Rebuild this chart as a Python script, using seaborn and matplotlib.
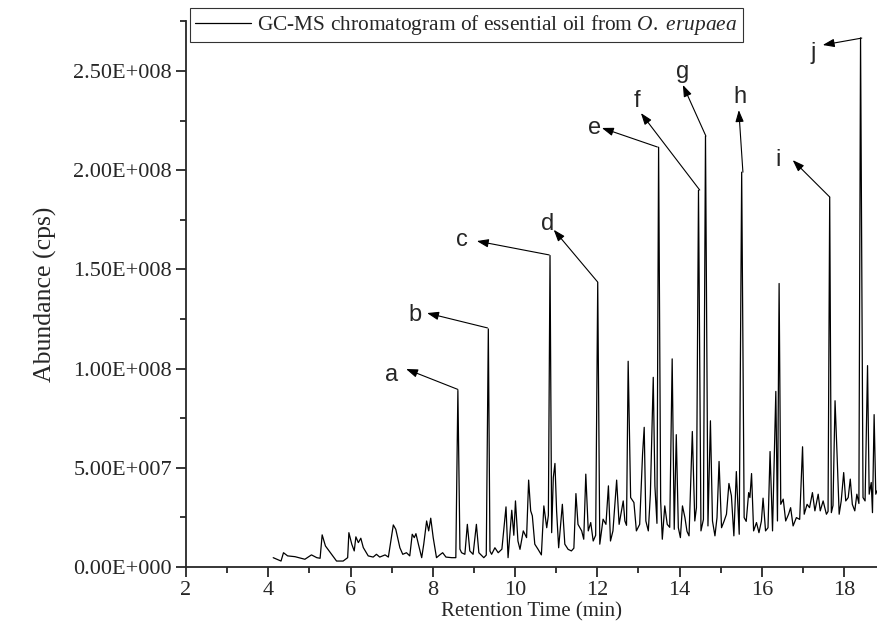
import numpy as np
import pandas as pd
import matplotlib
matplotlib.use('Agg')
import matplotlib.pyplot as plt
import seaborn as sns
from matplotlib.ticker import MultipleLocator, FuncFormatter

# %% data (time in min, abundance in 1e7 cps)

retention_time = [
    4.12, 4.31, 4.37, 4.47, 4.65, 4.89, 5.05, 5.18, 5.26, 5.31, 5.39, 5.54, 5.66, 5.82,
    5.93, 5.96, 6.03, 6.09, 6.13, 6.19, 6.25, 6.31, 6.43, 6.55, 6.63, 6.71, 6.84, 6.92,
    7.04, 7.10, 7.20, 7.27, 7.36, 7.44, 7.50, 7.55, 7.59, 7.65, 7.73, 7.78, 7.85, 7.90,
    7.95, 8.01, 8.09, 8.17, 8.24, 8.32, 8.46, 8.56, 8.61, 8.66, 8.70, 8.78, 8.84, 8.90,
    8.98, 9.06, 9.12, 9.24, 9.30, 9.35, 9.39, 9.43, 9.51, 9.59, 9.68, 9.78, 9.83, 9.92,
    9.97, 10.01, 10.07, 10.12, 10.20, 10.28, 10.33, 10.38, 10.42, 10.48, 10.56, 10.64,
    10.70, 10.77, 10.81, 10.85, 10.89, 10.93, 10.97, 11.01, 11.06, 11.15, 11.21, 11.29,
    11.37, 11.43, 11.48, 11.53, 11.62, 11.67, 11.72, 11.78, 11.84, 11.90, 11.96, 12.01,
    12.06, 12.14, 12.21, 12.27, 12.32, 12.38, 12.47, 12.53, 12.63, 12.67, 12.71, 12.75,
    12.81, 12.89, 12.95, 13.03, 13.10, 13.14, 13.18, 13.24, 13.29, 13.36, 13.40, 13.45,
    13.49, 13.54, 13.58, 13.64, 13.70, 13.76, 13.82, 13.87, 13.92, 13.97, 14.02, 14.07,
    14.13, 14.18, 14.23, 14.31, 14.37, 14.41, 14.46, 14.52, 14.58, 14.63, 14.69, 14.75,
    14.80, 14.86, 14.91, 14.96, 15.02, 15.08, 15.14, 15.20, 15.26, 15.32, 15.38, 15.45,
    15.51, 15.57, 15.62, 15.68, 15.71, 15.75, 15.80, 15.87, 15.93, 15.99, 16.03, 16.09,
    16.15, 16.20, 16.26, 16.34, 16.38, 16.42, 16.46, 16.52, 16.58, 16.65, 16.70, 16.76,
    16.84, 16.92, 16.99, 17.03, 17.10, 17.16, 17.23, 17.29, 17.37, 17.42, 17.49, 17.57,
    17.61, 17.65, 17.69, 17.73, 17.78, 17.83, 17.88, 17.93, 17.99, 18.04, 18.10, 18.15,
    18.20, 18.26, 18.31, 18.36, 18.40, 18.46, 18.51, 18.57, 18.61, 18.66, 18.69, 18.73,
    18.77, 18.80,
]
abundance_1e7 = [
    0.47, 0.30, 0.72, 0.56, 0.52, 0.39, 0.61, 0.47, 0.44, 1.62, 1.06, 0.64, 0.30, 0.30,
    0.47, 1.73, 1.15, 0.81, 1.52, 1.23, 1.45, 0.98, 0.56, 0.50, 0.64, 0.50, 0.61, 0.50,
    2.12, 1.90, 0.97, 0.64, 0.72, 0.56, 1.65, 1.48, 1.68, 1.15, 0.47, 1.15, 2.32, 1.82,
    2.46, 1.48, 0.47, 0.61, 0.72, 0.50, 0.47, 0.47, 8.90, 0.90, 0.72, 0.64, 2.15, 0.81,
    0.64, 2.15, 0.72, 0.47, 0.60, 12.0, 0.80, 0.64, 0.97, 0.72, 0.90, 3.03, 0.47, 2.86,
    1.60, 3.33, 1.31, 0.89, 1.82, 1.48, 4.38, 2.83, 2.58, 1.15, 0.89, 0.61,
    3.08, 1.98, 2.60, 15.7, 1.73, 4.51, 5.22, 2.83, 0.97, 3.16, 1.15, 0.89,
    0.81, 0.95, 3.70, 2.15, 1.82, 1.40, 4.68, 1.82, 2.24, 1.31, 1.60, 14.34,
    1.15, 2.41, 2.15, 4.09, 1.31, 1.82, 4.38, 2.15, 3.33, 2.32, 2.10, 10.37,
    3.50, 3.25, 1.82, 2.15, 5.69, 7.04, 2.32, 1.82, 3.67, 9.56, 4.09, 2.20,
    21.16, 3.33, 1.40, 3.08, 2.15, 2.00, 10.49, 1.90, 6.67, 1.98, 1.48, 3.08,
    2.49, 1.80, 1.57, 6.83, 2.32, 2.99, 18.99, 1.82, 2.40, 21.72, 2.07, 7.37,
    2.32, 1.57, 2.49, 5.32, 1.98, 2.30, 2.66, 4.21, 3.59, 1.57, 4.81, 1.65,
    19.90, 2.49, 2.30, 3.75, 3.50, 4.71, 1.82, 2.24, 1.73, 2.32, 3.47, 1.82,
    1.98, 5.82, 1.82, 8.85, 2.32, 14.29, 3.16, 3.42, 2.32, 2.66, 2.99, 2.07,
    2.49, 2.40, 6.06, 2.66, 3.16, 2.99, 3.75, 2.83, 3.67, 2.83, 3.33, 2.66,
    2.80, 18.64, 2.74, 3.10, 8.38, 5.61, 2.66, 3.33, 4.76, 3.33, 3.50, 4.43,
    3.16, 2.83, 3.67, 3.20, 26.67, 3.50, 3.33, 10.15, 3.67, 4.26, 2.74, 7.68,
    3.67, 3.84,
]

# labelled peaks a-j: letter, peak top (min, 1e7 cps)
peak_labels = ['a', 'b', 'c', 'd', 'e', 'f', 'g', 'h', 'i', 'j']
peak_time = [8.61, 9.33, 10.83, 12.01, 13.46, 14.49, 14.64, 15.54, 17.65, 18.43]
peak_top = [8.95, 12.05, 15.73, 14.36, 21.17, 19.00, 21.72, 19.90, 18.65, 26.66]

# arrow head and letter positions (layout)
arrow_head = [(7.35, 9.98), (7.86, 12.80), (9.07, 16.43), (10.94, 17.00), (12.11, 22.13),
              (13.06, 22.88), (14.08, 24.30), (15.44, 23.03), (16.75, 20.51), (17.48, 26.31)]
label_pos = [(7.00, 9.70), (7.57, 12.70), (8.71, 16.50), (10.80, 17.30), (11.94, 22.15),
             (12.96, 23.50), (14.08, 24.95), (15.46, 23.70), (16.39, 20.51), (17.24, 25.90)]

df = pd.DataFrame({'t': retention_time, 'A': np.array(abundance_1e7) * 1e7})

# %% style

sns.set_style('ticks')
plt.rcParams['font.family'] = ['Liberation Serif', 'DejaVu Serif']
plt.rcParams['mathtext.fontset'] = 'custom'
plt.rcParams['mathtext.it'] = 'Liberation Serif:italic'
plt.rcParams['mathtext.rm'] = 'Liberation Serif'

fig = plt.figure(figsize=(8.77, 6.43), dpi=100)
ax = fig.add_axes([0.2121, 0.1182, 0.7879, 0.8485])

sns.lineplot(data=df, x='t', y='A', ax=ax, color='black', lw=0.9, estimator=None,
             label=r'GC-MS chromatogram of essential oil from $\it{O.\ erupaea}$')

for lab, pt, ph, head, pos in zip(peak_labels, peak_time, peak_top, arrow_head, label_pos):
    ax.annotate('', xy=(head[0], head[1] * 1e7), xytext=(pt, ph * 1e7),
                arrowprops=dict(arrowstyle='-|>,head_length=0.7,head_width=0.25',
                                color='black', lw=0.8, shrinkA=0, shrinkB=0))
    ax.text(pos[0], pos[1] * 1e7, lab, family='Liberation Sans', fontsize=17,
            ha='center', va='center')

ax.set_xlim(2, 18.8)
ax.set_ylim(0, 2.75e8)
ax.xaxis.set_major_locator(MultipleLocator(2))
ax.xaxis.set_minor_locator(MultipleLocator(1))
ax.yaxis.set_major_locator(MultipleLocator(5e7))
ax.yaxis.set_minor_locator(MultipleLocator(2.5e7))


def sci_fmt(v, pos):
    if v == 0:
        return '0.00E+000'
    exp = int(np.floor(np.log10(abs(v))))
    return f'{v / 10**exp:.2f}E+{exp:03d}'


ax.yaxis.set_major_formatter(FuncFormatter(sci_fmt))
ax.tick_params(which='major', direction='out', length=7, width=1.3, labelsize=16, pad=3)
ax.tick_params(which='minor', direction='out', length=4.5, width=1.3)

sns.despine(ax=ax, top=True, right=True)
for s in ['left', 'bottom']:
    ax.spines[s].set_linewidth(1.3)

ax.set_xlabel('Retention Time (min)', fontsize=15, labelpad=2)
ax.set_ylabel('Abundance (cps)', fontsize=18.5, labelpad=12)

leg = ax.legend(loc='upper left', bbox_to_anchor=(0.2166, 0.988), bbox_transform=fig.transFigure,
                borderaxespad=0, fontsize=15.4, frameon=True, fancybox=False, handlelength=2.6,
                handletextpad=0.3, borderpad=0.25)
leg.get_frame().set_edgecolor('black')
leg.get_frame().set_linewidth(0.8)

fig.savefig('out.png', dpi=100)
